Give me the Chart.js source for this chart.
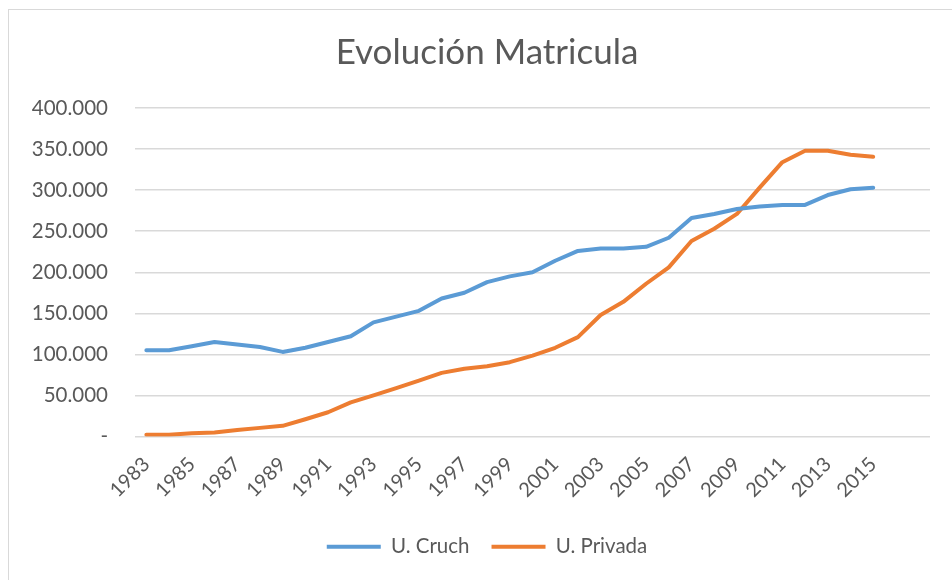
<!DOCTYPE html>
<html>
<head>
<meta charset="utf-8">
<script src="https://cdn.jsdelivr.net/npm/chart.js"></script>
<style>
    html, body { margin: 0; padding: 0; background: #fff; }
    #wrap { position: relative; width: 952px; height: 580px; overflow: hidden; }
    #frame { position: absolute; left: 8px; top: 9px; width: 980px; height: 600px; border: 1px solid #d9d9d9; }
    #myChart { position: absolute; left: 0; top: 0; }
</style>
</head>
<body>
<div id="wrap">
    <div id="frame"></div>
    <!-- canvas a bit wider than the page so title/legend centre like the original frame -->
    <canvas id="myChart" width="974" height="580"></canvas>
</div>

<script>
    // Years on the x axis (two empty slots at the end, as in the original sheet)
    const years = [
        '1983', '1984', '1985', '1986', '1987', '1988', '1989', '1990', '1991', '1992',
        '1993', '1994', '1995', '1996', '1997', '1998', '1999', '2000', '2001', '2002',
        '2003', '2004', '2005', '2006', '2007', '2008', '2009', '2010', '2011', '2012',
        '2013', '2014', '2015', '', ''
    ];

    // Enrolment, U. Cruch
    const cruch = [
        105000, 105000, 110000, 115000, 112000, 109000, 103000, 108000, 115000, 122000,
        139000, 146000, 153000, 168000, 175000, 188000, 195000, 200000, 214000, 226000,
        229000, 229000, 231000, 242000, 266000, 271000, 277000, 280000, 282000, 282000,
        294000, 301000, 303000
    ];

    // Enrolment, U. Privada
    const privada = [
        2000, 2000, 4000, 5000, 8000, 10500, 13000, 21000, 29500, 41500,
        50000, 59000, 68000, 77500, 82500, 85500, 90500, 98500, 108000, 121000,
        148000, 164000, 186000, 206000, 238000, 253000, 271000, 303000, 334000, 348000,
        348000, 343000, 340500
    ];

    const yTicks = [0, 50000, 100000, 150000, 200000, 250000, 300000, 350000, 400000];

    const font = 'Lato, "Open Sans", sans-serif';
    const grey = '#595959';

    function fmt(v) {
        if (v === 0) return '-';
        return String(v).replace(/\B(?=(\d{3})+(?!\d))/g, '.');
    }

    const ctx = document.getElementById('myChart').getContext('2d');

    const myChart = new Chart(ctx, {
        type: 'line',
        data: {
            labels: years,
            datasets: [{
                label: 'U. Cruch',
                data: cruch,
                borderColor: '#5B9BD5',
                backgroundColor: '#5B9BD5',
                borderWidth: 4,
                pointRadius: 0,
                tension: 0,
                borderJoinStyle: 'round',
                borderCapStyle: 'round',
                fill: false
            }, {
                label: 'U. Privada',
                data: privada,
                borderColor: '#ED7D31',
                backgroundColor: '#ED7D31',
                borderWidth: 4,
                pointRadius: 0,
                tension: 0,
                borderJoinStyle: 'round',
                borderCapStyle: 'round',
                fill: false
            }]
        },
        options: {
            responsive: false,
            animation: false,
            layout: { padding: { left: 0, right: 0, top: 0, bottom: 13 } },
            plugins: {
                title: {
                    display: true,
                    text: 'Evolución Matricula',
                    color: grey,
                    font: { family: font, size: 35, weight: 'normal' },
                    padding: { top: 32, bottom: 34 }
                },
                legend: {
                    position: 'bottom',
                    labels: {
                        color: grey,
                        font: { family: font, size: 20.5 },
                        usePointStyle: true,
                        pointStyle: 'line',
                        pointStyleWidth: 54,
                        padding: 22
                    }
                },
                tooltip: { enabled: false }
            },
            scales: {
                x: {
                    offset: true,
                    grid: { display: false },
                    border: { display: false },
                    ticks: {
                        color: grey,
                        font: { family: font, size: 20 },
                        autoSkip: false,
                        minRotation: 45,
                        maxRotation: 45,
                        padding: 8,
                        callback: function (v, i) { return i % 2 === 0 ? years[i] : ''; }
                    },
                    afterFit: function (s) { s.height = 78; }
                },
                y: {
                    min: 0,
                    max: 400000,
                    afterBuildTicks: function (s) { s.ticks = yTicks.map(v => ({ value: v })); },
                    grid: { color: '#d9d9d9', lineWidth: 1.5, drawTicks: false },
                    border: { display: false },
                    ticks: {
                        color: grey,
                        font: { family: font, size: 20.5 },
                        padding: 27,
                        callback: function (v) { return fmt(v); }
                    },
                    afterFit: function (s) { s.width = 135; }
                },
                // empty right-hand spacer axis
                yRight: {
                    position: 'right',
                    min: 0,
                    max: 400000,
                    grid: { display: false },
                    border: { display: false },
                    ticks: { display: false },
                    afterFit: function (s) { s.width = 44; }
                }
            }
        }
    });
</script>
</body>
</html>
